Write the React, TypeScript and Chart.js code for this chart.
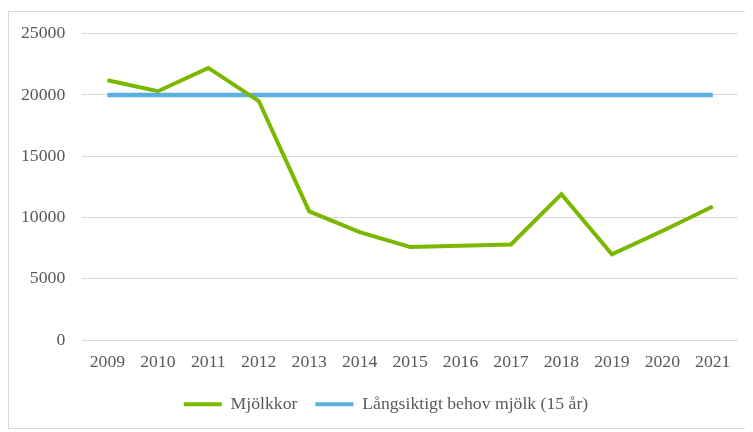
import React, { useEffect, useRef } from "react";
import { Chart, registerables } from "chart.js";

Chart.register(...registerables);

const years = ["2009", "2010", "2011", "2012", "2013", "2014", "2015", "2016", "2017", "2018", "2019", "2020", "2021"];
const mjolkkor = [21200, 20300, 22200, 19500, 10500, 8800, 7600, 7700, 7800, 11900, 7000, 8900, 10900];
const behov = [20000, 20000, 20000, 20000, 20000, 20000, 20000, 20000, 20000, 20000, 20000, 20000, 20000];
const yTicks = [0, 5000, 10000, 15000, 20000, 25000];

const GREEN = "#7ab800";
const BLUE = "#5aafe0";
const TEXT = "#595959";
const FONT = "'Liberation Serif', 'Times New Roman', serif";

const legendShift = {
  id: "legendShift",
  afterLayout(chart: any) {
    const lg = chart.legend;
    if (lg) {
      lg.left += 15;
      lg.right += 15;
    }
  },
};

export default function App() {
  const ref = useRef<HTMLCanvasElement | null>(null);
  useEffect(() => {
    if (!ref.current) return;
    const chart = new Chart(ref.current, {
      type: "line",
      data: {
        labels: years,
        datasets: [
          {
            label: "Mjölkkor",
            data: mjolkkor,
            borderColor: GREEN,
            backgroundColor: GREEN,
            borderWidth: 4,
            pointRadius: 0,
            tension: 0,
          },
          {
            label: "Långsiktigt behov mjölk (15 år)",
            data: behov,
            borderColor: BLUE,
            backgroundColor: BLUE,
            borderWidth: 4.5,
            pointRadius: 0,
            tension: 0,
          },
        ],
      },
      plugins: [legendShift],
      options: {
        animation: false,
        responsive: true,
        maintainAspectRatio: false,
        layout: { padding: { top: 6, right: 15, left: -5, bottom: 0 } },
        plugins: {
          tooltip: { enabled: false },
          legend: {
            position: "bottom",
            labels: {
              color: TEXT,
              font: { family: FONT, size: 17.7 },
              boxWidth: 38,
              boxHeight: 4,
              padding: 18,
              generateLabels: (c: any) =>
                c.data.datasets.map((d: any, i: number) => ({
                  text: d.label,
                  fillStyle: d.borderColor,
                  strokeStyle: d.borderColor,
                  lineWidth: 0,
                  hidden: false,
                  datasetIndex: i,
                  fontColor: TEXT,
                })),
            },
          },
        },
        scales: {
          x: {
            offset: true,
            grid: { display: false },
            border: { display: false },
            ticks: { color: TEXT, font: { family: FONT, size: 17.7 }, padding: 4, maxRotation: 0 },
          },
          y: {
            min: 0,
            max: 25000,
            afterBuildTicks: (s: any) => {
              s.ticks = yTicks.map((v) => ({ value: v }));
            },
            grid: { color: "#d9d9d9", lineWidth: 1, drawTicks: false },
            border: { display: false },
            ticks: {
              color: TEXT,
              font: { family: FONT, size: 17.7 },
              padding: 17,
              callback: (v: any) => String(v),
            },
          },
        },
      },
    });
    return () => chart.destroy();
  }, []);
  return (
    <div
      style={{
        marginTop: 3,
        width: 745,
        height: 418,
        boxSizing: "border-box",
        borderTop: "1px solid #d9d9d9",
        borderLeft: "1px solid #d9d9d9",
        borderBottom: "1px solid #d9d9d9",
        position: "relative",
        background: "#fff",
      }}
    >
      <div style={{ position: "absolute", left: 0, right: 0, top: -6, height: 417 }}>
        <canvas ref={ref} />
      </div>
    </div>
  );
}
